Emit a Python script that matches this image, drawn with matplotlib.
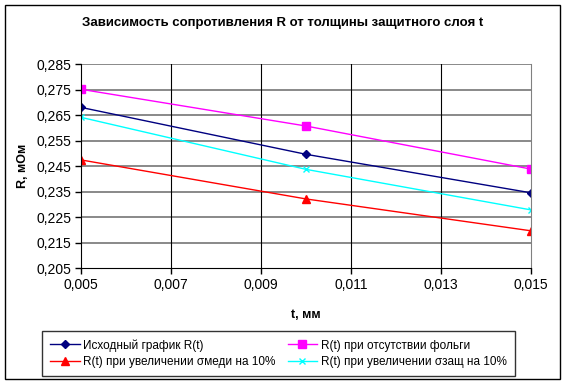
import matplotlib
matplotlib.use("Agg")
import matplotlib.pyplot as plt
from matplotlib.patches import Rectangle

plt.rcParams['font.family'] = ['Liberation Sans', 'DejaVu Sans']

t = [0.005, 0.010, 0.015]
R_base = [0.2681, 0.2497, 0.2346]
R_nofoil = [0.2752, 0.2608, 0.2439]
R_cu = [0.2475, 0.2322, 0.2197]
R_prot = [0.2642, 0.2438, 0.2279]

xticks = [0.005, 0.007, 0.009, 0.011, 0.013, 0.015]
yticks = [0.205, 0.215, 0.225, 0.235, 0.245, 0.255, 0.265, 0.275, 0.285]

def comma(v):
    return ("%.3f" % v).replace(".", ",")

fig = plt.figure(figsize=(5.65, 3.85), dpi=100)
fig.patches.append(Rectangle((5/565, 1-379/385), 555/565, 374/385,
                             transform=fig.transFigure, fill=False,
                             edgecolor='black', lw=1.0))

ax = fig.add_axes([81/565, 1-268.3/385, 450/565, 204/385])

l1, = ax.plot(t, R_base, color='#000080', marker='D', ms=4, lw=1.0,
              label='Исходный график R(t)')
l2, = ax.plot(t, R_nofoil, color='#FF00FF', marker='s', ms=5.5, lw=1.0,
              label='R(t) при отсутствии фольги')
l3, = ax.plot(t, R_cu, color='#FF0000', marker='^', ms=5.5, lw=1.0,
              label='R(t) при увеличении σмеди на 10%')
l4, = ax.plot(t, R_prot, color='#00FFFF', marker='x', ms=5, mew=1.0, lw=1.0,
              label='R(t) при увеличении σзащ на 10%')

ax.set_xlim(0.005, 0.015)
ax.set_ylim(0.205, 0.285)
ax.set_xticks(xticks)
ax.set_yticks(yticks)
ax.set_xticklabels([comma(v) for v in xticks], fontsize=10)
ax.set_yticklabels([comma(v) for v in yticks], fontsize=10)
for v in yticks[1:]:
    ax.axhline(v, color='#808080', lw=1.3, zorder=0)
for v in xticks[1:-1]:
    ax.axvline(v, color='#000000', lw=0.8, zorder=0)
ax.spines['top'].set_visible(False)
ax.spines['right'].set_color('#808080')
ax.tick_params(direction='out', length=4, width=1, pad=3)

ax.set_xlabel('t, мм', fontsize=9, fontweight='bold', labelpad=12)
ax.set_ylabel('R, мОм', fontsize=9, fontweight='bold', labelpad=5)
fig.suptitle('Зависимость сопротивления R от толщины защитного слоя t',
             fontsize=9.5, fontweight='bold', y=1-23/385, va='center')

# row-major order like the original: matplotlib fills columns first
leg = fig.legend([l1, l3, l2, l4],
                 [l1.get_label(), l3.get_label(), l2.get_label(), l4.get_label()],
                 loc='lower left', bbox_to_anchor=(42/565, 1-376/385),
                 ncol=2, fontsize=8.5, frameon=True, fancybox=False,
                 edgecolor='black', handlelength=2.5, handletextpad=0.3,
                 columnspacing=1.0, borderpad=0.7, labelspacing=0.35,
                 borderaxespad=0)
leg.get_frame().set_linewidth(1.0)

fig.savefig('out.png', dpi=100)
